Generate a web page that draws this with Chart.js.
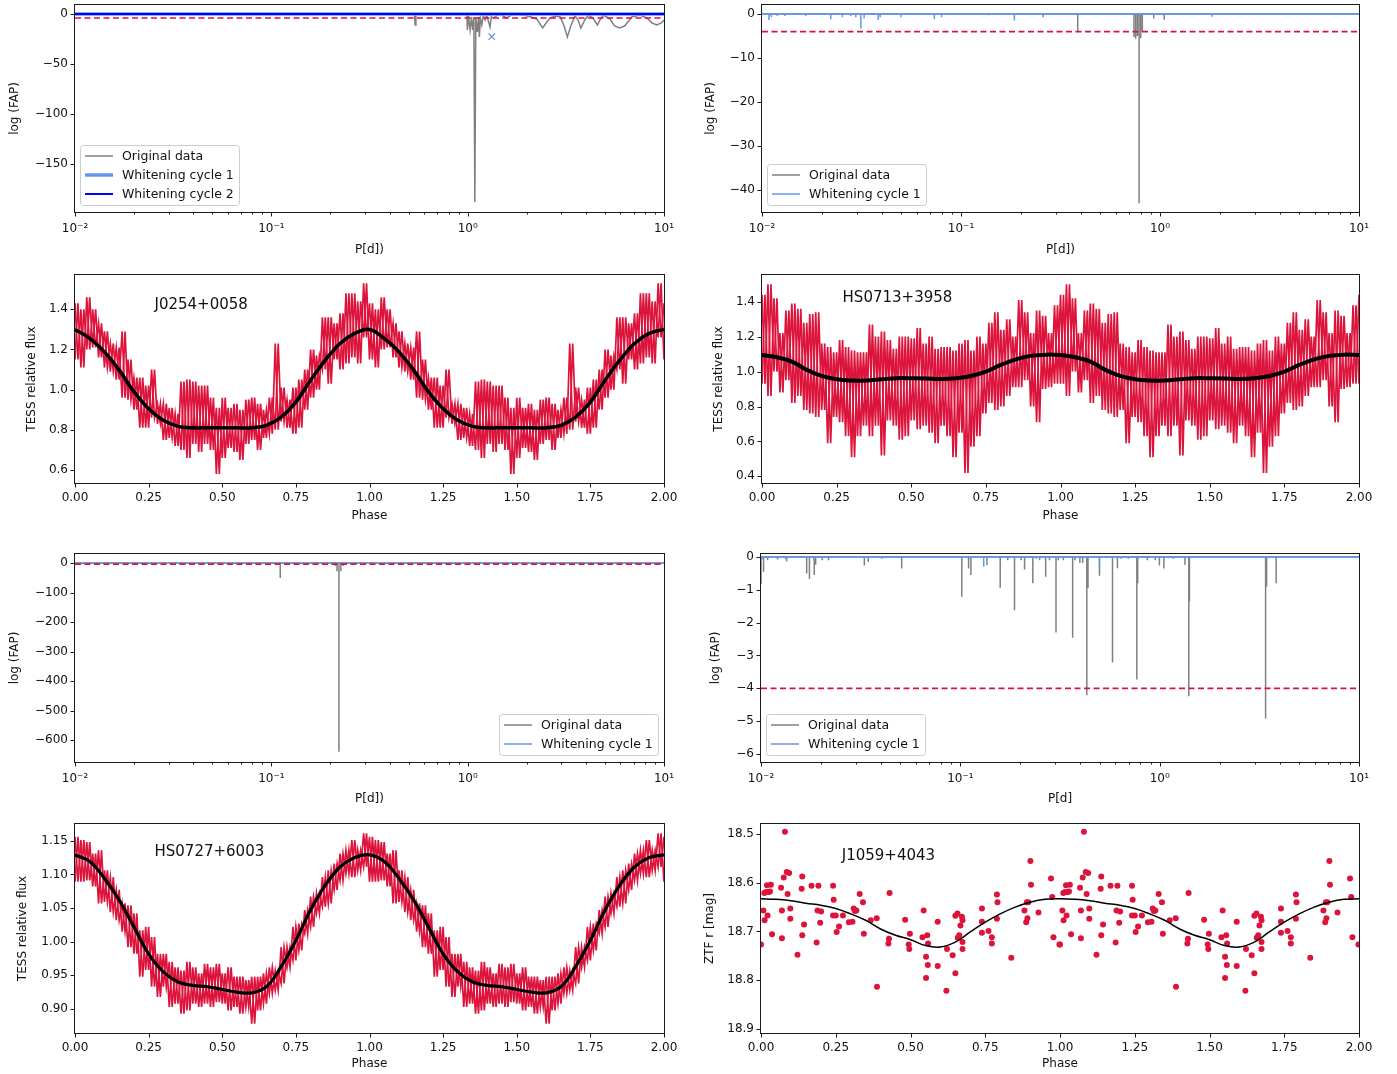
<!DOCTYPE html>
<html>
<head>
<meta charset="utf-8">
<script src="https://cdn.jsdelivr.net/npm/chart.js@4.4.1/dist/chart.umd.min.js"></script>
<style>
  body { margin: 0; background: #fff; }
  #fig { position: relative; width: 1397px; height: 1074px; overflow: hidden; }
  #fig canvas { position: absolute; }
</style>
</head>
<body>
<div id="fig"></div>
<script>
// ---- periodograms: period [d] vs log(FAP) ----
const FAP_LIMIT = -4;

// J0254+0058, original data (traced curve)
const j0254Period = [0.01, 0.535, 0.54, 0.545, 0.99, 0.997, 1.01, 1.029, 1.045, 1.06, 1.075, 1.088, 1.10, 1.12, 1.135, 1.147,
  1.16, 1.18, 1.20, 1.226, 1.25, 1.30, 1.32, 1.352, 1.45, 1.58, 1.70, 1.92, 2.10, 2.25, 2.41, 2.55, 2.63, 2.80, 2.96,
  3.10, 3.22, 3.35, 3.52, 3.65, 3.77, 3.95, 4.12, 4.35, 4.58, 4.75, 4.91, 5.31, 5.60, 5.93, 6.30, 6.85, 7.55, 8.17,
  8.70, 9.18, 9.70, 10];
const j0254LogFap = [0, 0, -11, 0, 0, -16, -2, -16, -3, -16, -3, -188, -4, -18, -3, -23,
  -4, -11, -2, -6, -1, -13, -3, -4, 0, -4, 0, -1, -3, -5, -14, -7, -4, -2, -3,
  -12, -23, -12, -2, -6, -14, -6, -1, -4, -11, -5, -1, -5, -12, -14, -12, -3, -1, -4,
  -9, -11, -9, -6];
const j0254W1Period = [1.30];
const j0254W1LogFap = [-2];
const j0254W1PeakPeriod = [1.326];
const j0254W1PeakFap = [-22.7];

// HS0713+3958
const hs0713Period = [0.2585, 0.386, 0.74, 0.755, 0.77, 0.785, 0.80, 0.815, 0.93, 1.05];
const hs0713LogFap = [-0.76, -4.0, -5.2, -5.6, -5.0, -43, -5.5, -4.0, -1.0, -1.3];
const hs0713W1Period = [0.01084, 0.01114, 0.01194, 0.01301, 0.01659, 0.02215, 0.02534, 0.02796, 0.0296, 0.0314,
  0.03259, 0.03835, 0.03925, 0.04988, 0.07345, 0.0798, 0.1387, 0.1855, 1.83];
const hs0713W1LogFap = [-1.36, -0.76, -0.45, -0.45, -0.45, -1.2, -0.76, -0.45, -0.76, -3.3,
  -1.0, -1.36, -0.76, -0.76, -1.2, -0.76, -0.3, -1.5, -0.6];

// HS0727+6003
const hs0727Period = [0.111, 0.212, 0.216, 0.221, 0.226, 0.232];
const hs0727LogFap = [-51, -10, -28, -640, -28, -10];

// J1059+4043
const j1059Period = [0.0100, 0.0103, 0.0108, 0.0121, 0.01346, 0.01695, 0.0175, 0.0185, 0.0188, 0.0203, 0.0218,
  0.033, 0.0345, 0.0405, 0.0508, 0.1017, 0.110, 0.113, 0.136, 0.1585, 0.173, 0.187, 0.202, 0.21, 0.231, 0.25,
  0.268, 0.28, 0.302, 0.31, 0.329, 0.366, 0.376, 0.398, 0.411, 0.431, 0.437, 0.499, 0.58, 0.614, 0.64, 0.697,
  0.768, 0.776, 0.868, 0.95, 0.997, 1.05, 1.17, 1.34, 1.40, 1.41, 3.40, 3.44, 3.84];
const j1059LogFap = [-0.83, -0.45, -0.10, -0.08, -0.13, -0.50, -0.67, -0.55, -0.24, -0.10, -0.10,
  -0.26, -0.15, -0.05, -0.35, -1.21, -0.35, -0.55, -0.25, -0.94, -0.10, -1.62, -0.10, -0.38, -0.80, -0.10,
  -0.60, -0.10, -2.30, -0.10, -0.10, -2.46, -0.10, -0.18, -0.18, -4.21, -0.95, -0.57, -3.21, -0.34, -0.05, -0.05,
  -3.73, -0.80, -0.10, -0.10, -0.26, -0.35, -0.05, -0.24, -4.24, -1.36, -4.92, -0.90, -0.80];
const j1059W1Period = [0.0102, 0.0133, 0.0185, 0.131, 0.24, 0.499];
const j1059W1LogFap = [-0.08, -0.06, -0.10, -0.30, -0.05, -0.30];

// ---- light curves, folded: per-bin max / min of relative flux (bin 0.02 in phase) ----
const BIN = 0.02;
const j0254FluxHi = [1.43, 1.40, 1.46, 1.40, 1.33, 1.29, 1.23, 1.21, 1.29, 1.15, 1.06, 1.06, 1.02, 1.10, 0.93, 0.93, 0.91,
  0.88, 1.04, 1.05, 1.04, 1.02, 1.02, 0.96, 0.91, 0.96, 0.91, 0.93, 0.90, 0.95, 0.96, 0.93, 0.90, 0.96, 1.23, 1.01,
  0.95, 1.01, 1.05, 1.10, 1.20, 1.17, 1.36, 1.36, 1.33, 1.38, 1.48, 1.48, 1.44, 1.53];
const j0254FluxLo = [1.15, 1.11, 1.20, 1.21, 1.16, 1.11, 1.09, 1.05, 0.96, 0.95, 0.90, 0.81, 0.81, 0.86, 0.83, 0.75, 0.76,
  0.72, 0.70, 0.66, 0.73, 0.69, 0.73, 0.70, 0.58, 0.66, 0.71, 0.69, 0.65, 0.73, 0.75, 0.70, 0.76, 0.78, 0.80, 0.84,
  0.81, 0.78, 0.81, 0.90, 0.96, 1.00, 1.10, 1.03, 1.15, 1.10, 1.13, 1.16, 1.13, 1.26];

const hs0713FluxHi = [1.44, 1.50, 1.42, 1.22, 1.35, 1.39, 1.36, 1.28, 1.33, 1.34, 1.16, 1.14, 1.11, 1.18, 1.14, 1.12, 1.11,
  1.11, 1.27, 1.20, 1.23, 1.18, 1.13, 1.20, 1.20, 1.19, 1.25, 1.16, 1.20, 1.13, 1.14, 1.14, 1.12, 1.16, 1.18, 1.12,
  1.20, 1.16, 1.28, 1.34, 1.24, 1.30, 1.20, 1.41, 1.34, 1.22, 1.35, 1.32, 1.22, 1.38];
const hs0713FluxLo = [0.93, 0.86, 1.00, 0.88, 0.95, 0.82, 0.86, 0.78, 0.76, 0.74, 0.78, 0.59, 0.74, 0.71, 0.63, 0.51, 0.63,
  0.69, 0.63, 0.69, 0.52, 0.72, 0.69, 0.61, 0.63, 0.72, 0.67, 0.69, 0.65, 0.59, 0.69, 0.63, 0.51, 0.65, 0.42, 0.57,
  0.63, 0.76, 0.82, 0.78, 0.80, 0.86, 0.91, 0.91, 0.95, 0.80, 0.71, 0.90, 0.91, 0.93];

const hs0727FluxHi = [1.156, 1.151, 1.148, 1.131, 1.136, 1.106, 1.096, 1.077, 1.057, 1.054, 1.042, 1.017, 1.022, 1.007,
  0.982, 0.982, 0.970, 0.962, 0.957, 0.970, 0.962, 0.953, 0.967, 0.962, 0.967, 0.953, 0.962, 0.948, 0.948, 0.943,
  0.948, 0.948, 0.953, 0.962, 0.957, 0.992, 0.992, 1.022, 1.027, 1.047, 1.067, 1.072, 1.096, 1.106, 1.116, 1.131,
  1.136, 1.151, 1.136, 1.161];
const hs0727FluxLo = [1.089, 1.089, 1.091, 1.082, 1.057, 1.059, 1.044, 1.032, 1.015, 0.992, 0.982, 0.948, 0.958, 0.933,
  0.918, 0.933, 0.903, 0.908, 0.893, 0.898, 0.908, 0.903, 0.908, 0.903, 0.910, 0.908, 0.898, 0.903, 0.893, 0.903,
  0.878, 0.898, 0.908, 0.923, 0.928, 0.938, 0.962, 0.972, 0.987, 1.012, 1.022, 1.042, 1.052, 1.057, 1.077, 1.091,
  1.101, 1.096, 1.106, 1.111];

// fitted models, sampled every 0.05 in phase
const modelPhase = [0, 0.05, 0.10, 0.15, 0.20, 0.25, 0.30, 0.35, 0.40, 0.45, 0.50, 0.55, 0.60, 0.65, 0.70, 0.75, 0.80,
  0.85, 0.90, 0.95, 1.0];
const j0254Model = [1.30, 1.255, 1.188, 1.097, 0.99, 0.905, 0.847, 0.817, 0.81, 0.81, 0.81, 0.81, 0.81, 0.822, 0.863,
  0.938, 1.047, 1.147, 1.23, 1.28, 1.30];
const hs0713Model = [1.095, 1.082, 1.057, 1.01, 0.975, 0.956, 0.949, 0.949, 0.956, 0.962, 0.962, 0.961, 0.958, 0.962,
  0.975, 1.0, 1.038, 1.07, 1.09, 1.097, 1.095];
const hs0727Model = [1.129, 1.119, 1.094, 1.062, 1.022, 0.982, 0.955, 0.94, 0.935, 0.933, 0.929, 0.925, 0.924, 0.933,
  0.963, 1.002, 1.047, 1.084, 1.111, 1.125, 1.129];
const j1059Model = [18.633, 18.634, 18.637, 18.642, 18.646, 18.653, 18.664, 18.677, 18.695, 18.708, 18.717, 18.729,
  18.732, 18.722, 18.701, 18.681, 18.664, 18.65, 18.64, 18.634, 18.633];

// J1059+4043 ZTF r photometry (phase, mag)
const ztfPhase = [0.000, 0.008, 0.011, 0.012, 0.017, 0.020, 0.022, 0.026, 0.030, 0.033, 0.037, 0.067, 0.070, 0.070,
  0.076, 0.080, 0.086, 0.089, 0.094, 0.098, 0.098, 0.122, 0.136, 0.138, 0.138, 0.144, 0.169, 0.186, 0.189, 0.192,
  0.198, 0.201, 0.241, 0.243, 0.241, 0.250, 0.253, 0.261, 0.274, 0.294, 0.306, 0.310, 0.314, 0.319, 0.330, 0.341,
  0.344, 0.367, 0.387, 0.388, 0.426, 0.428, 0.430, 0.482, 0.494, 0.496, 0.498, 0.540, 0.544, 0.552, 0.552, 0.556,
  0.558, 0.559, 0.591, 0.591, 0.620, 0.622, 0.641, 0.650, 0.650, 0.657, 0.658, 0.663, 0.667, 0.672, 0.674, 0.674,
  0.674, 0.739, 0.739, 0.739, 0.761, 0.772, 0.772, 0.789, 0.791, 0.789, 0.837, 0.881, 0.887, 0.889, 0.891, 0.894,
  0.901, 0.903, 0.928, 0.970, 0.974, 0.978, 0.998];
const ztfMag = [18.727, 18.657, 18.621, 18.677, 18.619, 18.605, 18.667, 18.619, 18.618, 18.604, 18.706, 18.610, 18.657,
  18.714, 18.589, 18.495, 18.578, 18.623, 18.580, 18.653, 18.674, 18.748, 18.612, 18.587, 18.708, 18.686, 18.606,
  18.723, 18.657, 18.606, 18.682, 18.659, 18.606, 18.635, 18.667, 18.667, 18.701, 18.690, 18.667, 18.681, 18.680,
  18.653, 18.658, 18.657, 18.623, 18.640, 18.705, 18.677, 18.673, 18.814, 18.725, 18.715, 18.621, 18.676, 18.727,
  18.736, 18.705, 18.712, 18.657, 18.796, 18.752, 18.708, 18.769, 18.725, 18.680, 18.771, 18.822, 18.736, 18.749,
  18.786, 18.668, 18.663, 18.713, 18.708, 18.688, 18.670, 18.677, 18.722, 18.736, 18.653, 18.680, 18.703, 18.699,
  18.712, 18.725, 18.624, 18.640, 18.674, 18.754, 18.657, 18.681, 18.640, 18.673, 18.640, 18.555, 18.604, 18.661,
  18.591, 18.629, 18.712, 18.727];

// ---- tick values and labels ----
const periodMajor = [0.01, 0.1, 1, 10];
const periodMajorLabels = ['10\u207B\u00B2', '10\u207B\u00B9', '10\u2070', '10\u00B9'];
const phaseTicks = [0, 0.25, 0.5, 0.75, 1.0, 1.25, 1.5, 1.75, 2.0];
const j0254FapTicks = [0, -50, -100, -150];
const hs0713FapTicks = [0, -10, -20, -30, -40];
const hs0727FapTicks = [0, -100, -200, -300, -400, -500, -600];
const j1059FapTicks = [0, -1, -2, -3, -4, -5, -6];
const j0254FluxTicks = [0.6, 0.8, 1.0, 1.2, 1.4];
const hs0713FluxTicks = [0.4, 0.6, 0.8, 1.0, 1.2, 1.4];
const hs0727FluxTicks = [0.90, 0.95, 1.00, 1.05, 1.10, 1.15];
const ztfMagTicks = [18.5, 18.6, 18.7, 18.8, 18.9];

const GRAY = '#808080', LIGHT = '#6495ed', BLUE = '#0000ff', RED = '#dc143c';
const FONT = '"DejaVu Sans", sans-serif';
Chart.defaults.font.family = FONT;
Chart.defaults.font.size = 12;
Chart.defaults.color = '#111';

const minus = v => (v < 0 ? '\u2212' + (-v) : String(v));

function pairs(xs, ys) { return xs.map((x, i) => ({x, y: ys[i]})); }

// vertical spikes down from log(FAP)=0 at each listed period
function spikeLine(periods, values) {
  const pts = [{x: 0.01, y: 0}];
  periods.forEach((p, i) => pts.push({x: p, y: 0}, {x: p, y: values[i]}, {x: p, y: 0}));
  pts.push({x: 10, y: 0});
  return pts;
}

// folded series drawn over two cycles
function twoCycles(phase, vals) {
  const pts = [];
  for (let c = 0; c < 2; c++) phase.forEach((p, i) => {
    if (c === 1 && p === 0 && phase[phase.length - 1] === 1) return;
    pts.push({x: p + c, y: vals[i]});
  });
  return pts;
}

// flux scatter: trace visiting each bin's extremes (first/second set the order), two cycles
function binTrace(first, second) {
  const pts = [];
  for (let c = 0; c < 2; c++) first.forEach((v, i) => {
    pts.push({x: c + i * BIN, y: v}, {x: c + (i + 0.5) * BIN, y: second[i]});
  });
  pts.push({x: 2, y: first[0]});
  return pts;
}

function ds(data, color, width, extra) {
  return Object.assign({data, borderColor: color, backgroundColor: color, borderWidth: width,
    pointRadius: 0, tension: 0, fill: false, clip: 0}, extra || {});
}

function fluxBand(hi, lo) {
  return [
    ds(binTrace(hi, lo), RED, 1.7, {order: 2}),
    ds(binTrace(lo, hi), RED, 1.7, {order: 2})
  ];
}

const flat = [{x: 0.01, y: 0}, {x: 10, y: 0}];
const limitLine = [{x: 0.01, y: FAP_LIMIT}, {x: 10, y: FAP_LIMIT}];

// ---- plugins ----
const axesFrame = {
  id: 'axesFrame',
  afterDatasetsDraw(chart) {
    const {ctx, chartArea: a, scales} = chart;
    const L = Math.round(a.left) - 0.5, R = Math.round(a.right) + 0.5;
    const T = Math.round(a.top) - 0.5, B = Math.round(a.bottom) + 0.5;
    ctx.save();
    ctx.strokeStyle = '#1a1a1a';
    ctx.lineWidth = 1;
    ctx.strokeRect(L, T, R - L, B - T);
    ctx.beginPath();
    scales.x.ticks.forEach(t => {
      const px = Math.round(scales.x.getPixelForValue(t.value)) + 0.5;
      ctx.moveTo(px, B); ctx.lineTo(px, B + (t.major ? 4 : 2));
    });
    scales.y.ticks.forEach(t => {
      const py = Math.round(scales.y.getPixelForValue(t.value)) + 0.5;
      ctx.moveTo(L, py); ctx.lineTo(L - 4, py);
    });
    ctx.stroke();
    ctx.restore();
  }
};

const insetLegend = {
  id: 'insetLegend',
  afterDraw(chart, args, opts) {
    if (!opts.loc) return;
    const items = chart.data.datasets.filter(d => d.label);
    const {ctx, chartArea: a} = chart;
    ctx.save();
    ctx.font = '12.5px ' + FONT;
    const textW = Math.max(...items.map(d => ctx.measureText(d.label).width));
    const w = Math.round(42 + textW + 5), h = items.length * 19 + 3;
    const x = Math.round(opts.loc === 'lower right' ? a.right - 6 - w : a.left + 5);
    const y = Math.round(a.bottom - 7 - h);
    ctx.beginPath();
    if (ctx.roundRect) ctx.roundRect(x + 0.5, y + 0.5, w, h, 3); else ctx.rect(x + 0.5, y + 0.5, w, h);
    ctx.fillStyle = 'rgba(255,255,255,0.8)';
    ctx.fill();
    ctx.strokeStyle = '#cccccc';
    ctx.lineWidth = 1;
    ctx.stroke();
    items.forEach((d, i) => {
      const cy = y + 11 + i * 19;
      ctx.strokeStyle = d.borderColor;
      ctx.lineWidth = d.borderWidth;
      ctx.beginPath();
      ctx.moveTo(x + 5, cy); ctx.lineTo(x + 33, cy);
      ctx.stroke();
      ctx.fillStyle = '#111';
      ctx.textBaseline = 'middle';
      ctx.fillText(d.label, x + 42, cy + 1);
    });
    ctx.restore();
  }
};

const starLabel = {
  id: 'starLabel',
  afterDatasetsDraw(chart, args, opts) {
    if (!opts.text) return;
    const {ctx, scales} = chart;
    ctx.save();
    ctx.font = '15px ' + FONT;
    ctx.fillStyle = '#111';
    ctx.textBaseline = 'alphabetic';
    ctx.fillText(opts.text, scales.x.getPixelForValue(opts.x), scales.y.getPixelForValue(opts.y));
    ctx.restore();
  }
};

// ---- axes ----
function periodTicks() {
  const t = periodMajor.map((v, i) => ({value: v, text: periodMajorLabels[i], major: true}));
  [0.01, 0.1, 1].forEach(d => { for (let m = 2; m <= 9; m++) t.push({value: m * d, text: '', major: false}); });
  return t.sort((a, b) => a.value - b.value);
}

function axis(s, dir, size) {
  return {
    type: s.type || 'linear', min: s.min, max: s.max, reverse: !!s.reverse,
    grid: {display: false, drawTicks: false},
    border: {display: false},
    ticks: {padding: s.pad || 7, autoSkip: false, maxRotation: 0, minRotation: 0, color: '#111', font: {size: 12},
      callback: (v, i, t) => t[i].text},
    afterBuildTicks: sc => {
      sc.ticks = s.log ? periodTicks() : s.ticks.map(v => ({value: v, text: s.fmt(v), major: true}));
    },
    afterFit: sc => {
      if (dir === 'x') { sc.height = size; sc.paddingLeft = 0; sc.paddingRight = 0; }
      else { sc.width = size; sc.paddingTop = 0; sc.paddingBottom = 0; }
    },
    title: {display: true, text: s.title, padding: 0, color: '#111', font: {size: 12}}
  };
}

const fig = document.getElementById('fig');
function makePanel(cfg) {
  const a = cfg.area;
  const left = Math.round(cfg.yTitleX - 7), top = a.t - 10;
  const right = a.r + 24, bottom = Math.round(cfg.xTitleY + 7);
  const w = right - left, h = bottom - top;
  const cv = document.createElement('canvas');
  cv.width = w; cv.height = h;
  Object.assign(cv.style, {left: left + 'px', top: top + 'px', width: w + 'px', height: h + 'px'});
  fig.appendChild(cv);
  new Chart(cv, {
    type: 'line',
    data: {datasets: cfg.datasets},
    options: {
      responsive: false, maintainAspectRatio: false, animation: false, events: [],
      layout: {padding: {top: 10, right: 24, left: 0, bottom: 0}},
      plugins: {legend: {display: false}, tooltip: {enabled: false},
        insetLegend: cfg.legend || {}, starLabel: cfg.label || {}},
      scales: {x: axis(cfg.x, 'x', bottom - a.b), y: axis(cfg.y, 'y', a.l - left)}
    },
    plugins: [axesFrame, insetLegend, starLabel]
  });
}

const periodAxis = {type: 'logarithmic', log: true, min: 0.01, max: 10, pad: 10};
const phaseAxis = {min: 0, max: 2, ticks: phaseTicks, fmt: v => v.toFixed(2), title: 'Phase', pad: 8};
const dashed = {borderDash: [6, 3.5], order: 0};

// row 1
makePanel({
  area: {l: 75, t: 5, r: 664, b: 212}, yTitleX: 15, xTitleY: 250,
  x: Object.assign({title: 'P[d])'}, periodAxis),
  y: {min: -198, max: 9, ticks: j0254FapTicks, fmt: minus, title: 'log (FAP)'},
  legend: {loc: 'lower left'},
  datasets: [
    ds(pairs(j0254Period, j0254LogFap), GRAY, 1.5, {label: 'Original data', order: 3}),
    ds(spikeLine(j0254W1Period, j0254W1LogFap), LIGHT, 3.5, {label: 'Whitening cycle 1', order: 2}),
    ds(flat, BLUE, 2, {label: 'Whitening cycle 2', order: 1}),
    ds(limitLine, RED, 1.7, dashed),
    ds(pairs(j0254W1PeakPeriod, j0254W1PeakFap), LIGHT, 1.3,
      {showLine: false, pointStyle: 'crossRot', pointRadius: 4.5, pointBorderColor: LIGHT, pointBorderWidth: 1.3, order: 0})
  ]
});
makePanel({
  area: {l: 762, t: 5, r: 1359, b: 212}, yTitleX: 711, xTitleY: 250,
  x: Object.assign({title: 'P[d])'}, periodAxis),
  y: {min: -45.0, max: 2.05, ticks: hs0713FapTicks, fmt: minus, title: 'log (FAP)'},
  legend: {loc: 'lower left'},
  datasets: [
    ds(spikeLine(hs0713Period, hs0713LogFap), GRAY, 1.5, {label: 'Original data', order: 2}),
    ds(spikeLine(hs0713W1Period, hs0713W1LogFap), LIGHT, 1.5, {label: 'Whitening cycle 1', order: 1}),
    ds(limitLine, RED, 1.7, dashed)
  ]
});

// row 2
makePanel({
  area: {l: 75, t: 275, r: 664, b: 483}, yTitleX: 32, xTitleY: 516,
  x: phaseAxis,
  y: {min: 0.535, max: 1.571, ticks: j0254FluxTicks, fmt: v => v.toFixed(1), title: 'TESS relative flux'},
  label: {text: 'J0254+0058', x: 0.27, y: 1.40},
  datasets: fluxBand(j0254FluxHi, j0254FluxLo).concat([
    ds(twoCycles(modelPhase, j0254Model), '#000', 3.5, {tension: 0.4, order: 1})
  ])
});
makePanel({
  area: {l: 762, t: 275, r: 1359, b: 483}, yTitleX: 719, xTitleY: 516,
  x: phaseAxis,
  y: {min: 0.362, max: 1.553, ticks: hs0713FluxTicks, fmt: v => v.toFixed(1), title: 'TESS relative flux'},
  label: {text: 'HS0713+3958', x: 0.27, y: 1.40},
  datasets: fluxBand(hs0713FluxHi, hs0713FluxLo).concat([
    ds(twoCycles(modelPhase, hs0713Model), '#000', 4, {tension: 0.4, order: 1})
  ])
});

// row 3
makePanel({
  area: {l: 75, t: 554, r: 664, b: 762}, yTitleX: 15, xTitleY: 799,
  x: Object.assign({title: 'P[d])'}, periodAxis),
  y: {min: -674.5, max: 30.5, ticks: hs0727FapTicks, fmt: minus, title: 'log (FAP)'},
  legend: {loc: 'lower right'},
  datasets: [
    ds(spikeLine(hs0727Period, hs0727LogFap), GRAY, 1.5, {label: 'Original data', order: 2}),
    ds(flat, LIGHT, 1.5, {label: 'Whitening cycle 1', order: 1}),
    ds(limitLine, RED, 1.7, dashed)
  ]
});
makePanel({
  area: {l: 761, t: 554, r: 1359, b: 762}, yTitleX: 716, xTitleY: 799,
  x: Object.assign({title: 'P[d]'}, periodAxis),
  y: {min: -6.244, max: 0.091, ticks: j1059FapTicks, fmt: minus, title: 'log (FAP)'},
  legend: {loc: 'lower left'},
  datasets: [
    ds(spikeLine(j1059Period, j1059LogFap), GRAY, 1.5, {label: 'Original data', order: 2}),
    ds(spikeLine(j1059W1Period, j1059W1LogFap), LIGHT, 1.5, {label: 'Whitening cycle 1', order: 1}),
    ds(limitLine, RED, 1.7, dashed)
  ]
});

// row 4
makePanel({
  area: {l: 75, t: 824, r: 664, b: 1033}, yTitleX: 23, xTitleY: 1064,
  x: phaseAxis,
  y: {min: 0.8643, max: 1.1749, ticks: hs0727FluxTicks, fmt: v => v.toFixed(2), title: 'TESS relative flux'},
  label: {text: 'HS0727+6003', x: 0.27, y: 1.128},
  datasets: fluxBand(hs0727FluxHi, hs0727FluxLo).concat([
    ds(twoCycles(modelPhase, hs0727Model), '#000', 3.2, {tension: 0.4, order: 1})
  ])
});
makePanel({
  area: {l: 761, t: 824, r: 1359, b: 1033}, yTitleX: 710, xTitleY: 1064,
  x: phaseAxis,
  y: {min: 18.479, max: 18.909, reverse: true, ticks: ztfMagTicks, fmt: v => v.toFixed(1), title: 'ZTF r [mag]'},
  label: {text: 'J1059+4043', x: 0.27, y: 18.554},
  datasets: [
    ds(twoCycles(ztfPhase, ztfMag), RED, 0,
      {showLine: false, pointRadius: 3, pointBackgroundColor: RED, pointBorderWidth: 0, order: 2}),
    ds(twoCycles(modelPhase, j1059Model), '#000', 1.5, {tension: 0.4, order: 1})
  ]
});
</script>
</body>
</html>
